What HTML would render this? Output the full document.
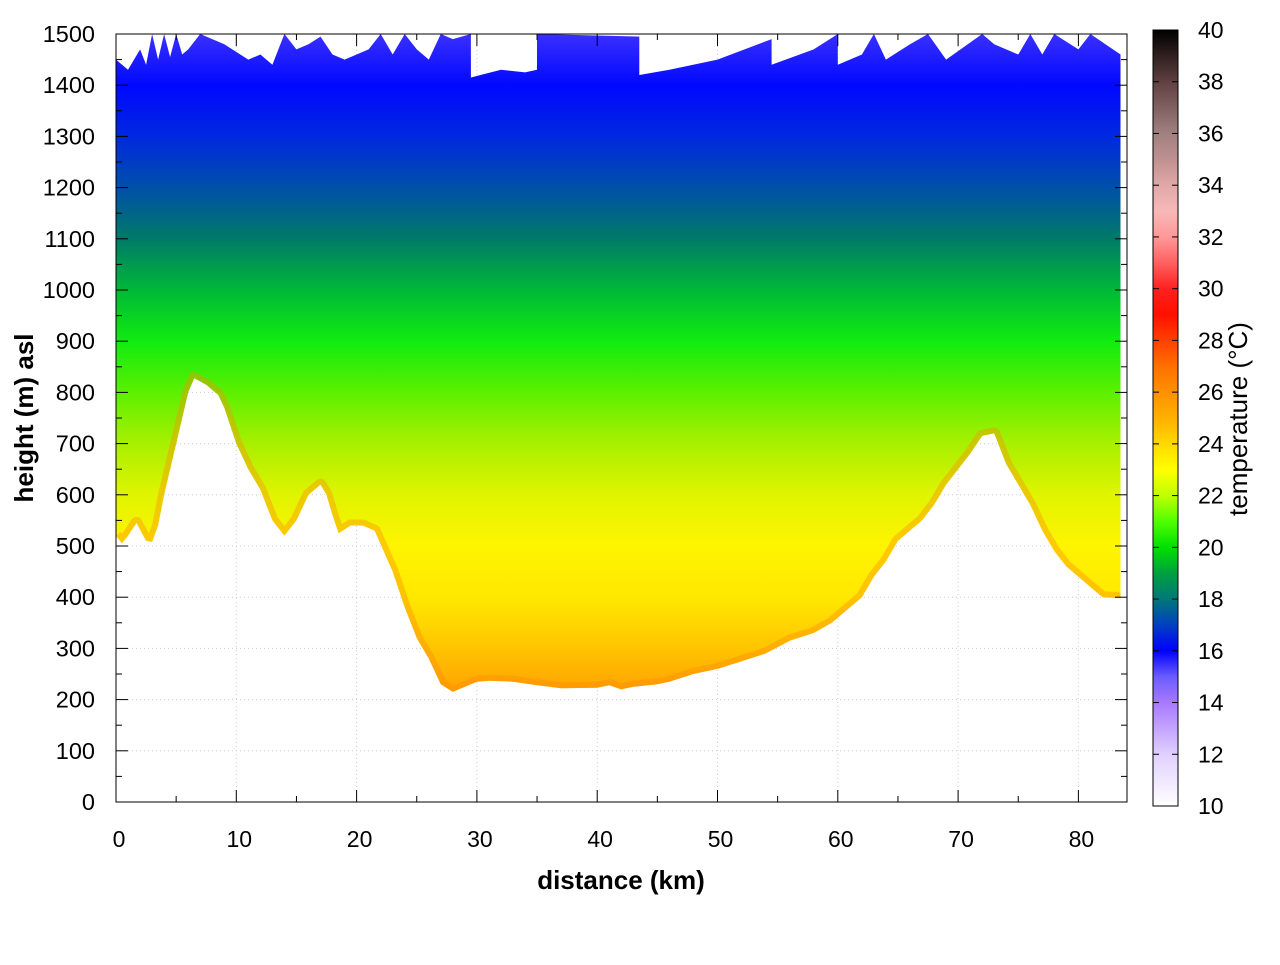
<!DOCTYPE html>
<html><head><meta charset="utf-8"><style>
body{margin:0;background:#fff;}
svg text{font-family:"Liberation Sans",sans-serif;}
</style></head><body>
<svg id="chart" width="1280" height="960" xmlns="http://www.w3.org/2000/svg">
<defs>
<linearGradient id="fieldGrad" gradientUnits="userSpaceOnUse" x1="0" y1="34" x2="0" y2="802"></linearGradient>
<linearGradient id="cbGrad" gradientUnits="userSpaceOnUse" x1="0" y1="806" x2="0" y2="30"></linearGradient>
<clipPath id="plotClip"><rect x="116" y="34" width="1011" height="768"/></clipPath>
<clipPath id="areaClip"><path id="areaClipPath" d=""/></clipPath>
</defs>
<g id="grid"></g>
<g id="field" clip-path="url(#plotClip)"></g>
<rect x="116" y="34" width="1011" height="768" fill="none" stroke="#000" stroke-width="1"/>
<g id="axes"></g>
<text x="621" y="889" font-size="26" font-weight="bold" text-anchor="middle">distance (km)</text>
<text transform="translate(33,418) rotate(-90)" font-size="26" font-weight="bold" text-anchor="middle">height (m) asl</text>
<rect x="1153" y="30" width="25" height="776" fill="url(#cbGrad)" stroke="#000" stroke-width="1"/>
<g id="cbaxis"></g>
<text transform="translate(1247,419) rotate(-90)" font-size="26" text-anchor="middle">temperature (°C)</text>
</svg>
<script>
const terrainKm=[0,0.5,1,1.7,2.5,3,3.5,4,5,6,6.5,7.5,8.5,9,10,11,12,13,14,15,16,17,17.5,18,18.5,19.5,20.5,21.5,23,24,25,26,27,28,29,30,31,33,35,37,40,41,42,43,45,46,48,50,52,54,56,58,59.5,60.5,62,63,64,65,66,67,68,69,70,71,72,73,74,75,76,77,78,79,80,81,82,83.5];
const terrainM=[520,505,520,545,510,508,540,600,700,800,828,815,795,770,700,650,610,550,520,550,600,620,600,560,525,540,540,530,450,380,320,280,230,215,225,235,237,235,228,222,223,228,220,225,230,235,250,260,275,290,315,330,350,370,400,440,470,510,530,550,580,620,650,680,715,720,660,620,580,530,490,460,440,420,400,398];
const topKm=[0,1,2,2.5,3,3.5,4,4.5,5,5.5,6,7,9,11,12,13,14,15,16,17,18,19,20,21,22,23,24,25,26,27,28,29.5,29.5,32,34,35,35,43.5,43.5,46,50,54.5,54.5,58,60,60,62,63,64,66,67.5,69,72,73,75,76,77,78,80,81,83.5];
const topM=[1450,1430,1470,1440,1500,1450,1500,1455,1500,1460,1470,1500,1480,1450,1460,1440,1500,1470,1480,1495,1460,1450,1460,1470,1500,1460,1500,1470,1450,1500,1490,1500,1415,1430,1425,1430,1500,1495,1420,1430,1450,1490,1440,1470,1500,1440,1460,1500,1450,1480,1500,1450,1500,1480,1460,1500,1460,1500,1470,1500,1460];
const heightStops=[1500,1400,1300,1200,1100,1000,900,800,700,600,500,400,300,200];
const heightColors=["#3a30ff","#0008ff","#0028e0","#0050a8","#007a68","#00b838","#10ec10","#5cf000","#a8f000","#e0f400","#fff400","#ffe800","#ffc400","#ff9c00"];
const cbTemps=[10,12,14,15,16,17,18,19,20,21,22,23,24,25,26,27,28,29,30,31,32,33,34,35,36,37,38,39,40];
const cbColors=["#ffffff","#e0d0ff","#a878ff","#6a5cff","#0000ff","#0040c0","#007878","#00a040","#00e000","#50ff00","#c0ff00","#ffff00","#ffd800","#ffb000","#ff9000","#ff7000","#ff4000","#ff1000","#ff2020","#ff6060","#ff9898","#f8b8b8","#e0a8a8","#c09090","#a08080","#806060","#604040","#302020","#000000"];
const xTicks=[0,10,20,30,40,50,60,70,80];
const yTicks=[0,100,200,300,400,500,600,700,800,900,1000,1100,1200,1300,1400,1500];
const cbTicks=[10,12,14,16,18,20,22,24,26,28,30,32,34,36,38,40];
const NS="http://www.w3.org/2000/svg";
const X=k=>116+k*12.03, Y=m=>802-m*0.512, CY=t=>806-(t-10)*776/30;
function mk(tag,attrs,parent){const e=document.createElementNS(NS,tag);for(const k in attrs)e.setAttribute(k,attrs[k]);parent.appendChild(e);return e;}
const fg=document.getElementById('fieldGrad');
heightStops.forEach((h,i)=>mk('stop',{offset:((Y(h)-34)/768).toFixed(4),'stop-color':heightColors[i]},fg));
const cg=document.getElementById('cbGrad');
cbTemps.forEach((t,i)=>mk('stop',{offset:((t-10)/30).toFixed(4),'stop-color':cbColors[i]},cg));
let d='M'+X(topKm[0])+','+Y(topM[0]);
for(let i=1;i<topKm.length;i++)d+=' L'+X(topKm[i]).toFixed(1)+','+Y(topM[i]).toFixed(1);
for(let i=terrainKm.length-1;i>=0;i--)d+=' L'+X(terrainKm[i]).toFixed(1)+','+Y(terrainM[i]).toFixed(1);
d+='Z';
document.getElementById('areaClipPath').setAttribute('d',d);
const field=document.getElementById('field');
const area=mk('path',{d:d,fill:'url(#fieldGrad)'},field);


let td='M'+X(terrainKm[0])+','+Y(terrainM[0]);
for(let i=1;i<terrainKm.length;i++)td+=' L'+X(terrainKm[i]).toFixed(1)+','+Y(terrainM[i]).toFixed(1);
const edgeG=mk('g',{'clip-path':'url(#areaClip)'},field);
const edge=mk('path',{d:td,fill:'none',stroke:'#ff8c00','stroke-width':12,'stroke-opacity':0.4,'stroke-linejoin':'round'},edgeG);


const grid=document.getElementById('grid'),axes=document.getElementById('axes'),cba=document.getElementById('cbaxis');
xTicks.forEach(k=>{const x=X(k);
 if(k>0){const g=mk('line',{x1:x,x2:x,y1:34,y2:802,stroke:'#ccc','stroke-dasharray':'1,3'},grid);}
 mk('line',{x1:x,x2:x,y1:802,y2:790,stroke:'#000'},axes);mk('line',{x1:x,x2:x,y1:34,y2:46,stroke:'#000'},axes);
 const xm=X(k+5);if(xm<1127){mk('line',{x1:xm,x2:xm,y1:802,y2:796,stroke:'#000'},axes);mk('line',{x1:xm,x2:xm,y1:34,y2:40,stroke:'#000'},axes);}
 const t=mk('text',{x:x+3,y:847,'font-size':23,'text-anchor':'middle'},axes);t.textContent=k;
 });
yTicks.forEach(m=>{const y=Y(m);
 if(m>0&&m<1500){const g=mk('line',{x1:116,x2:1127,y1:y,y2:y,stroke:'#ccc','stroke-dasharray':'1,3'},grid);}
 mk('line',{x1:116,x2:128,y1:y,y2:y,stroke:'#000'},axes);mk('line',{x1:1115,x2:1127,y1:y,y2:y,stroke:'#000'},axes);
 if(m<1500){const ym=Y(m+50);mk('line',{x1:116,x2:122,y1:ym,y2:ym,stroke:'#000'},axes);mk('line',{x1:1121,x2:1127,y1:ym,y2:ym,stroke:'#000'},axes);}
 const t=mk('text',{x:95,y:y+8,'font-size':23.5,'text-anchor':'end'},axes);t.textContent=m;
 });
cbTicks.forEach(v=>{const y=CY(v);
 mk('line',{x1:1153,x2:1159,y1:y,y2:y,stroke:'#000'},cba);mk('line',{x1:1172,x2:1178,y1:y,y2:y,stroke:'#000'},cba);
 const t=mk('text',{x:1198,y:y+8,'font-size':23},cba);t.textContent=v;
 });
</script>
</body></html>
